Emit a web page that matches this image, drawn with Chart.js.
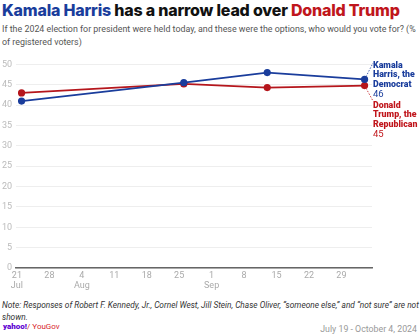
<!DOCTYPE html>
<html>
<head>
<meta charset="utf-8">
<script src="https://cdn.jsdelivr.net/npm/chart.js@4"></script>
<style>
  body { margin: 0; width: 420px; height: 336px; background: #fff; font-family: Roboto, "Liberation Sans", sans-serif; position: relative; overflow: hidden; }
  #title { position: absolute; left: 2px; top: 0px; font-family: Inter, sans-serif; font-size: 16px; font-weight: 800; letter-spacing: -0.2px; white-space: nowrap; color: #111; }
  #title .h { color: #1a3d9c; }
  #title .t { color: #c0161c; }
  #sub { position: absolute; left: 2px; top: 23px; font-size: 8.9px; line-height: 13px; color: #555; white-space: nowrap; }
  #wrap { position: absolute; left: 0; top: 55px; width: 420px; height: 245px; }
  #note { position: absolute; left: 2px; top: 300px; font-size: 8.3px; line-height: 11.5px; font-style: italic; color: #333; white-space: nowrap; }
  #logo { position: absolute; left: 3px; top: 322px; font-size: 8px; white-space: nowrap; }
  #logo b { color: #6001d2; font-weight: 900; }
  #logo span { color: #d8262c; }
  #date { position: absolute; right: 3px; top: 324px; font-size: 8.8px; color: #999; }
</style>
</head>
<body>
<div id="title"><span class="h">Kamala Harris</span> has a narrow lead over <span class="t">Donald Trump</span></div>
<div id="sub">If the 2024 election for president were held today, and these were the options, who would you vote for? (%<br>of registered voters)</div>
<div id="wrap"><canvas id="chart"></canvas></div>
<div id="note">Note: Responses of Robert F. Kennedy, Jr., Cornel West, Jill Stein, Chase Oliver, “someone else,” and “not sure” are not<br>shown.</div>
<div id="logo"><b>yahoo!</b><span>/ YouGov</span></div>
<div id="date">July 19 - October 4, 2024</div>
<script>
// days counted from July 21
const pollDays = [1, 36, 54, 75];
const harris = [41, 45.5, 48, 46.3];
const trump = [43, 45.2, 44.3, 44.8];
const tickDays = [0, 7, 14, 21, 28, 35, 42, 49, 56, 63, 70];
const tickLabels = [['21', 'Jul'], '28', ['4', 'Aug'], '11', '18', '25', ['1', 'Sep'], '8', '15', '22', '29'];
const yTicks = [0, 5, 10, 15, 20, 25, 30, 35, 40, 45, 50];
const endLabels = [
  { lines: ['Kamala', 'Harris, the', 'Democrat'], value: '46', color: '#1a3d9c' },
  { lines: ['Donald', 'Trump, the', 'Republican'], value: '45', color: '#c0161c' }
];

const BLUE = '#1a3d9c';
const RED = '#b5161c';

const endLabelPlugin = {
  id: 'endLabels',
  afterDraw(chart) {
    const ctx = chart.ctx;
    const tops = [6, 46];
    endLabels.forEach((lab, i) => {
      const meta = chart.getDatasetMeta(i);
      const pt = meta.data[meta.data.length - 1];
      const x0 = 373;
      const top = tops[i];
      ctx.save();
      // dotted connector
      ctx.strokeStyle = lab.color;
      ctx.lineWidth = 0.8;
      ctx.setLineDash([1.5, 1.5]);
      ctx.beginPath();
      ctx.moveTo(pt.x, pt.y);
      ctx.lineTo(x0, top + (i === 0 ? 2 : 0));
      ctx.stroke();
      ctx.setLineDash([]);
      ctx.fillStyle = lab.color;
      ctx.textBaseline = 'top';
      ctx.font = '900 8.8px Roboto, sans-serif';
      lab.lines.forEach((l, j) => ctx.fillText(l, x0, top + j * 9.5));
      ctx.font = '400 9.5px Roboto, sans-serif';
      ctx.fillText(lab.value, x0, top + 3 * 9.5);
      ctx.restore();
    });
  }
};

new Chart(document.getElementById('chart'), {
  type: 'line',
  data: {
    datasets: [
      { label: 'Harris', data: pollDays.map((d, i) => ({ x: d, y: harris[i] })), borderColor: BLUE, backgroundColor: BLUE, borderWidth: 1.8, pointRadius: 2.7, pointHoverRadius: 2.7 },
      { label: 'Trump', data: pollDays.map((d, i) => ({ x: d, y: trump[i] })), borderColor: RED, backgroundColor: RED, borderWidth: 1.8, pointRadius: 2.7, pointHoverRadius: 2.7 }
    ]
  },
  options: {
    responsive: true,
    maintainAspectRatio: false,
    animation: false,
    layout: { padding: { top: 8, right: 48, left: 0, bottom: 0 } },
    plugins: { legend: { display: false }, tooltip: { enabled: false } },
    scales: {
      x: {
        type: 'linear',
        min: -0.2,
        max: 76.6,
        afterBuildTicks: s => { s.ticks = tickDays.map(v => ({ value: v })); },
        ticks: {
          color: '#aaa',
          font: { size: 9, family: 'Roboto, sans-serif' },
          padding: 2,
          maxRotation: 0,
          autoSkip: false,
          callback: (v) => tickLabels[tickDays.indexOf(v)]
        },
        grid: { display: false, drawTicks: false },
        border: { color: '#666', width: 1.5 },
        afterFit: s => { s.height = 32; }
      },
      y: {
        min: 0,
        max: 50,
        afterBuildTicks: s => { s.ticks = yTicks.map(v => ({ value: v })); },
        ticks: { color: '#bbb', font: { size: 9, family: 'Roboto, sans-serif' }, padding: 4 },
        grid: { color: '#eeeeee', drawTicks: false, lineWidth: 1 },
        border: { display: false },
        afterFit: s => { s.width = 16; }
      }
    }
  },
  plugins: [endLabelPlugin]
});
</script>
</body>
</html>
